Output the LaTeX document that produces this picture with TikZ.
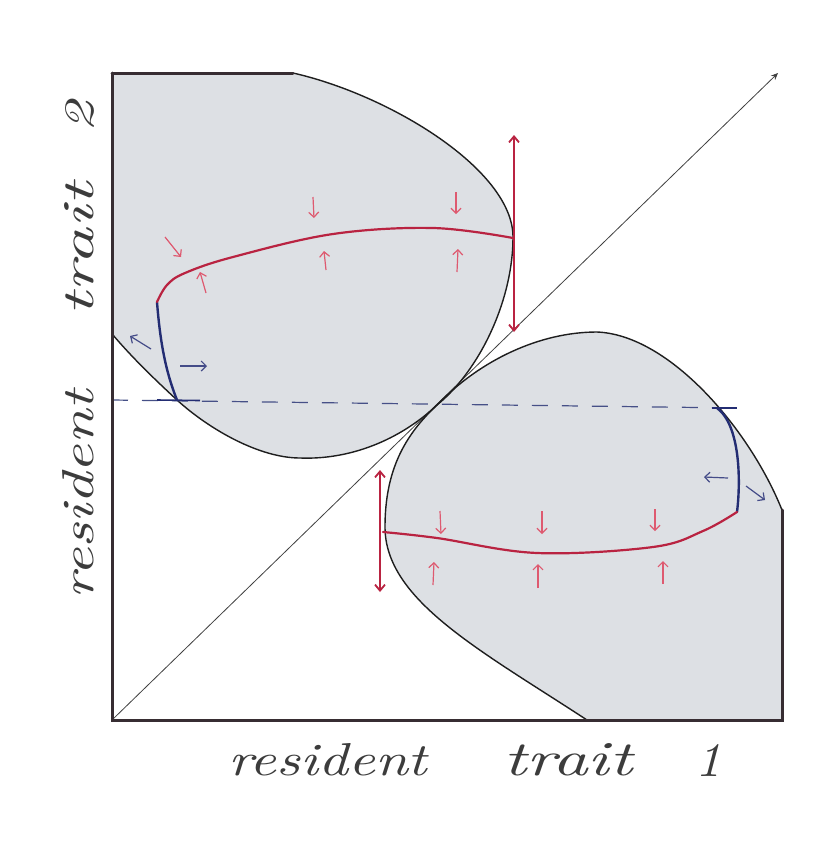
\documentclass[tikz,border=0pt]{standalone}
\usepackage{fontspec}
\newcommand\handfont{\itshape}
\usetikzlibrary{arrows.meta}
\definecolor{fillgray}{RGB}{221,224,228}
\definecolor{axiscol}{RGB}{55,45,50}
\definecolor{bound}{RGB}{30,30,30}
\definecolor{redc}{RGB}{185,35,65}
\definecolor{pinkc}{RGB}{222,90,112}
\definecolor{bluec}{RGB}{35,45,115}
\definecolor{dashc}{RGB}{70,80,135}
\definecolor{textc}{RGB}{60,60,60}
\tikzset{
 axisline/.style={line width=3pt, draw=axiscol, line cap=round},
 boundline/.style={line width=1.4pt, draw=bound},
 region/.style={fill=fillgray},
 redcurve/.style={line width=2.2pt, draw=redc, line cap=round},
 bluecurve/.style={line width=2.4pt, draw=bluec, line cap=round},
 smallred/.style={line width=1.2pt, draw=pinkc, -{Straight Barb[length=5pt,width=10pt]}},
 smallblue/.style={line width=1.2pt, draw=bluec!85, -{Straight Barb[length=5pt,width=10pt]}},
 bigred/.style={line width=1.8pt, draw=redc, {Straight Barb[length=6pt,width=10pt]}-{Straight Barb[length=6pt,width=10pt]}},
 hlabel/.style={inner sep=0pt, anchor=base west, text=textc},
}
\begin{document}
\begin{tikzpicture}[x=1pt,y=-1pt]
\useasboundingbox (0,0) rectangle (818,860);
\fill[white] (0,0) rectangle (818,860);
% regions
\coordinate (TL) at (112,73);
\coordinate (TopEnd) at (293,73);
\coordinate (URight) at (513,237);
\coordinate (Touch) at (437,405);
\coordinate (UBottom) at (300,458);
\coordinate (UBlueFoot) at (177,400);
\coordinate (UAxis) at (113,335);
\path[region] (TL) -- (TopEnd) .. controls (390,95) and (513,170) .. (URight)
  .. controls (513,300) and (480,370) .. (Touch)
  .. controls (400,440) and (350,460) .. (UBottom)
  .. controls (260,458) and (210,430) .. (UBlueFoot)
  .. controls (150,375) and (130,355) .. (UAxis) -- cycle;
\coordinate (LAxis) at (587,720);
\coordinate (LLeft) at (385,527);
\coordinate (LTop) at (597,332);
\coordinate (LCorner) at (782,510);
\coordinate (BR) at (782,720);
\path[region] (LAxis) .. controls (480,650) and (385,600) .. (LLeft)
  .. controls (385,470) and (405,435) .. (Touch)
  .. controls (480,360) and (540,332) .. (LTop)
  .. controls (670,335) and (750,430) .. (LCorner) -- (BR) -- cycle;
% diagonal
\coordinate (O) at (112,720);
\coordinate (D) at (778,73);
\draw[line width=0.8pt, draw=black!75, -{Stealth[length=7pt,width=6pt]}] (O) -- (D);
% boundaries
\draw[boundline] (TopEnd) .. controls (390,95) and (513,170) .. (URight)
  .. controls (513,300) and (480,370) .. (Touch)
  .. controls (400,440) and (350,460) .. (UBottom)
  .. controls (260,458) and (210,430) .. (UBlueFoot)
  .. controls (150,375) and (130,355) .. (UAxis);
\draw[boundline] (LAxis) .. controls (480,650) and (385,600) .. (LLeft)
  .. controls (385,470) and (405,435) .. (Touch)
  .. controls (480,360) and (540,332) .. (LTop)
  .. controls (670,335) and (750,430) .. (LCorner);
% dashed line
\coordinate (DashL) at (112,400);
\coordinate (DashR) at (737,408);
\draw[line width=1.2pt, draw=dashc, dash pattern=on 16pt off 14pt] (DashL) -- (DashR);
\draw[line width=1.6pt, draw=bluec] (157,400) -- (200,400.5);
\draw[line width=1.6pt, draw=bluec] (712,408) -- (DashR);
% blue curves
\coordinate (UJoin) at (157,302);
\coordinate (LJoin) at (737,512);
\coordinate (LBlueTop) at (717,408);
\draw[bluecurve] (UJoin) .. controls (160,340) and (165,370) .. (UBlueFoot);
\draw[bluecurve] (LBlueTop) .. controls (740,425) and (741,480) .. (LJoin);
% red curves
\draw[redcurve] plot[smooth, tension=0.6] coordinates {(157,302) (167,285) (185,273) (233,257) (333,234) (433,228) (513,238)};
\draw[redcurve] plot[smooth, tension=0.6] coordinates {(383,532) (437,538) (537,553) (653,547) (703,531) (737,512)};
% big red double arrows
\coordinate (UArrT) at (514,135);
\coordinate (UArrB) at (514,332);
\coordinate (LArrT) at (380,470);
\coordinate (LArrB) at (380,592);
\draw[bigred] (UArrT) -- (UArrB);
\draw[bigred] (LArrT) -- (LArrB);
% small red arrows, upper
\draw[smallred] (165,237) -- (181,257);
\draw[smallred] (206,293) -- (200,272);
\draw[smallred] (313,197) -- (314,218);
\draw[smallred] (326,270) -- (324,251);
\draw[smallred] (456,192) -- (456,214);
\draw[smallred] (457,272) -- (458,249);
% small red arrows, lower
\draw[smallred] (440,511) -- (441,534);
\draw[smallred] (542,511) -- (542,534);
\draw[smallred] (655,509) -- (655,531);
\draw[smallred] (433,585) -- (434,562);
\draw[smallred] (538,588) -- (538,564);
\draw[smallred] (663,584) -- (663,561);
% small blue arrows
\draw[smallblue] (151,349) -- (130,336);
\draw[smallblue] (180,366) -- (207,366);
\draw[smallblue] (728,478) -- (704,477);
\draw[smallblue] (746,486) -- (765,500);
% axes and frame pieces
\draw[axisline] (TL) -- (O) -- (BR) -- (LCorner);
\draw[axisline] (TL) -- (TopEnd);
% labels
\node[hlabel] (xres) at (228,775) {\resizebox{199pt}{32pt}{\handfont resident}};
\node[hlabel] (xtrait) at (503,775) {\resizebox{129pt}{32pt}{\handfont trait}};
\node[hlabel] (xone) at (695,776) {\resizebox{26pt}{32pt}{\handfont 1}};
\node[hlabel, rotate=90] (yres) at (93,600) {\resizebox{210pt}{31pt}{\handfont resident}};
\node[hlabel, rotate=90] (ytrait) at (93,317) {\resizebox{134pt}{29pt}{\handfont trait}};
\node[hlabel, rotate=90] (ytwo) at (93,133) {\resizebox{31pt}{28pt}{\handfont 2}};
\end{tikzpicture}
\end{document}
